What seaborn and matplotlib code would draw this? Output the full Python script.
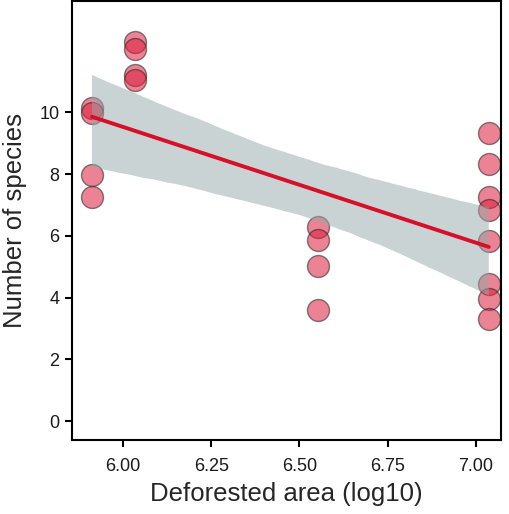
import matplotlib
matplotlib.use("Agg")
import matplotlib.pyplot as plt
import seaborn as sns
import numpy as np
import pandas as pd

# Data
area_log10 = [5.912, 5.912, 5.912, 5.912,
              6.034, 6.034, 6.034, 6.034,
              6.552, 6.552, 6.552, 6.552,
              7.037, 7.037, 7.037, 7.037, 7.037, 7.037, 7.037, 7.037]
species = [10.13, 9.97, 7.96, 7.25,
           12.27, 12.05, 11.2, 11.05,
           6.27, 5.86, 5.03, 3.61,
           9.33, 8.34, 7.24, 6.83, 5.83, 4.43, 3.97, 3.32]
x_ticks = [6.00, 6.25, 6.50, 6.75, 7.00]
y_ticks = [0, 2, 4, 6, 8, 10]

df = pd.DataFrame({"area": area_log10, "species": species})

sns.set_style("ticks")
plt.rcParams["font.family"] = ["Liberation Sans", "DejaVu Sans"]

fig = plt.figure(figsize=(5.10, 5.14), dpi=100)
ax = fig.add_axes([0.141, 0.144, 0.841, 0.854])

sns.scatterplot(data=df, x="area", y="species", ax=ax, s=250,
                color="#DC1E3C", alpha=0.55, edgecolor="#222222",
                linewidth=1.0, zorder=1)
sns.regplot(data=df, x="area", y="species", ax=ax, scatter=False,
            color="#D7102A", ci=95, n_boot=2000, seed=1,
            line_kws={"linewidth": 2.8, "zorder": 3})
# recolor confidence band
for coll in ax.collections[1:]:
    coll.set_facecolor("#96A9A9")
    coll.set_alpha(0.5)
    coll.set_edgecolor("none")
    coll.set_zorder(2)

ax.set_xlim(5.855, 7.071)
ax.set_ylim(-0.61, 13.6)
ax.set_xticks(x_ticks)
ax.set_xticklabels([f"{v:.2f}" for v in x_ticks])
ax.set_yticks(y_ticks)
ax.set_xlabel("Deforested area (log10)", fontsize=18.5, labelpad=5)
ax.set_ylabel("Number of species", fontsize=18.5, labelpad=9)
ax.tick_params(axis="both", labelsize=13, length=5, width=1.5,
               color="black", labelcolor="#1a1a1a")
ax.tick_params(axis="x", pad=8)
ax.tick_params(axis="y", pad=4)
for sp in ax.spines.values():
    sp.set_visible(True)
    sp.set_linewidth(1.5)
    sp.set_color("black")

fig.savefig("out.png", dpi=100)
